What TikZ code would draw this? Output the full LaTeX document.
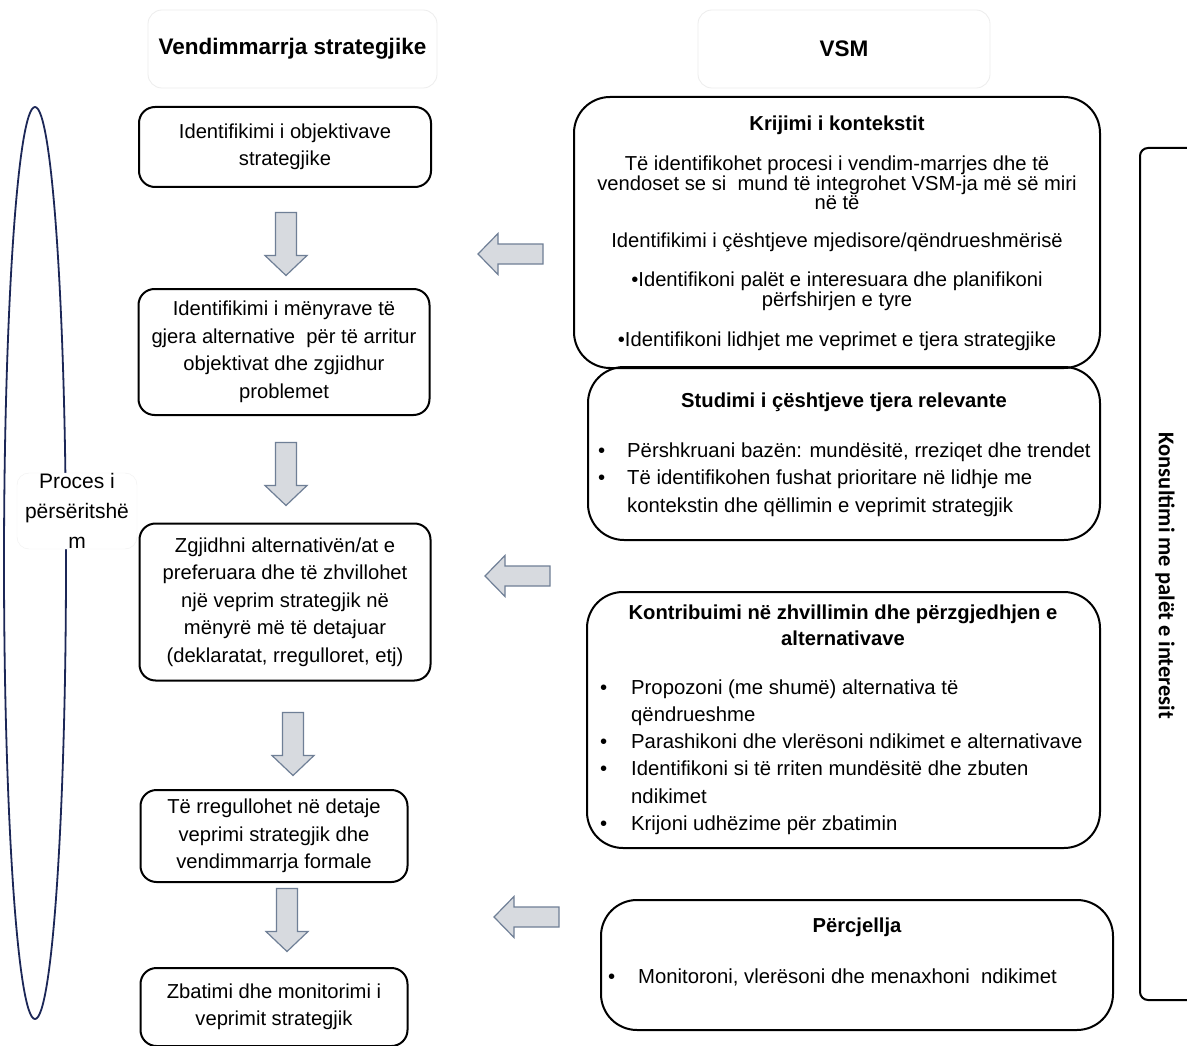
\documentclass[tikz,border=0pt]{standalone}
\usepackage{fontspec}
\setmainfont{Liberation Sans}
\newfontfamily\condfont{Carlito}
\usetikzlibrary{shapes.geometric}
\definecolor{arrowfill}{HTML}{D7DADF}
\definecolor{arrowline}{HTML}{6F7F96}
\definecolor{navyline}{HTML}{1C2757}
\tikzset{
  lbox/.style={draw=black, line width=2pt, rounded corners=16pt, align=center,
    font=\fontsize{20.2}{27.5}\selectfont, inner sep=0pt},
  rbox/.style={draw=black, line width=2pt, rounded corners=36pt, inner sep=0pt},
  hbox/.style={draw=black!7, rounded corners=14pt, line width=0.8pt, inner sep=0pt,
    font=\bfseries\fontsize{22.5}{27}\selectfont},
  txt/.style={font=\fontsize{20.2}{27.5}\selectfont, align=center, inner sep=0pt},
  tighttxt/.style={font=\fontsize{20.2}{17.5}\selectfont, align=center, inner sep=0pt},
  listtxt/.style={font=\fontsize{20.3}{27.3}\selectfont, align=left, inner sep=0pt, anchor=west},
  ttl/.style={font=\bfseries\fontsize{20.2}{26}\selectfont, align=center, inner sep=0pt},
  barrow/.style={fill=arrowfill, draw=arrowline, line width=1.2pt, line join=miter},
  downarr/.pic={\draw[barrow] (-10.5,-31.5) -- (10.5,-31.5) -- (10.5,11.5) -- (21,11.5)
     -- (0,31.5) -- (-21,11.5) -- (-10.5,11.5) -- cycle;},
  leftarr/.pic={\draw[barrow] (32.5,-10) -- (32.5,10) -- (-12.5,10) -- (-12.5,20.5)
     -- (-32.5,0) -- (-12.5,-20.5) -- (-12.5,-10) -- cycle;}
}
\newcommand{\bul}[1]{\makebox[#1][l]{•}}
\begin{document}
\begin{tikzpicture}[x=1pt,y=-1pt]
\useasboundingbox (0,0) rectangle (1187,1046);
\fill[white] (0,0) rectangle (1187,1046);

% headers
\node[hbox, minimum width=289, minimum height=78] (h1) at (292.5,49) {Vendimmarrja strategjike};
\node[hbox, minimum width=292, minimum height=78] (h2) at (844,49) {VSM};

% iterative process ellipse
\node[ellipse, draw=navyline, line width=1.8pt, minimum width=62, minimum height=912, inner sep=0pt] (ell) at (35,563) {};
\node[fill=white, draw=black!6, rounded corners=12pt, minimum width=120, minimum height=76,
  align=center, inner sep=0pt, font=\fontsize{21}{30}\selectfont] (proc) at (77,511)
  {Proces i\\përsëritshë\\m};

% left column
\node[lbox, minimum width=292, minimum height=80] (b1) at (285,147)
  {Identifikimi i objektivave\\strategjike};
\node[lbox, minimum width=291, minimum height=126] (b2) at (284,352)
  {Identifikimi i mënyrave të\\gjera alternative \ për të arritur\\objektivat dhe zgjidhur\\problemet};
\node[lbox, minimum width=291, minimum height=157] (b3) at (285,602)
  {Zgjidhni alternativën/at e\\preferuara dhe të zhvillohet\\një veprim strategjik në\\mënyrë më të detajuar\\(deklaratat, rregulloret, etj)};
\node[lbox, minimum width=267, minimum height=92] (b4) at (274,836)
  {Të rregullohet në detaje\\veprimi strategjik dhe\\vendimmarrja formale};
\node[lbox, minimum width=267, minimum height=78] (b5) at (274,1007)
  {Zbatimi dhe monitorimi i\\veprimit strategjik};

% down arrows
\coordinate (a1) at (286,244);
\coordinate (a2) at (286,474);
\coordinate (a3) at (293,744);
\coordinate (a4) at (287,920);
\pic at (a1) {downarr};
\pic at (a2) {downarr};
\pic at (a3) {downarr};
\pic at (a4) {downarr};

% left arrows
\coordinate (l1) at (510.5,254);
\coordinate (l2) at (517.5,576);
\coordinate (l3) at (526.5,917);
\pic at (l1) {leftarr};
\pic at (l2) {leftarr};
\pic at (l3) {leftarr};

% right column
\node[rbox, minimum width=526, minimum height=271] (k1) at (837,232.5) {};
\node[ttl] (k1t) at (837,125) {Krijimi i kontekstit};
\node[tighttxt] (k1a) at (837,182.5)
  {Të identifikohet procesi i vendim-marrjes dhe të\\vendoset se si \ mund të integrohet VSM-ja më së miri\\në të};
\node[txt] (k1b) at (837,242) {Identifikimi i çështjeve mjedisore/qëndrueshmërisë};
\node[tighttxt] (k1c) at (837,291.5)
  {•Identifikoni palët e interesuara dhe planifikoni\\përfshirjen e tyre};
\node[txt] (k1d) at (837,341) {•Identifikoni lidhjet me veprimet e tjera strategjike};

\node[rbox, minimum width=512, minimum height=173] (k2) at (844,453.5) {};
\node[ttl] (k2t) at (844,402) {Studimi i çështjeve tjera relevante};
\node[listtxt] (k2a) at (598,479.5)
  {\bul{29pt}Përshkruani bazën: mundësitë, rreziqet dhe trendet\\
   \bul{29pt}Të identifikohen fushat prioritare në lidhje me\\
   \hspace*{29pt}kontekstin dhe qëllimin e veprimit strategjik};

\node[rbox, minimum width=513, minimum height=256] (k3) at (843.5,720) {};
\node[ttl] (k3t) at (843,625)
  {Kontribuimi në zhvillimin dhe përzgjedhjen e\\alternativave};
\node[listtxt] (k3a) at (600,757)
  {\bul{31pt}Propozoni (me shumë) alternativa të\\
   \hspace*{31pt}qëndrueshme\\
   \bul{31pt}Parashikoni dhe vlerësoni ndikimet e alternativave\\
   \bul{31pt}Identifikoni si të rriten mundësitë dhe zbuten\\
   \hspace*{31pt}ndikimet\\
   \bul{31pt}Krijoni udhëzime për zbatimin};

\node[rbox, minimum width=512, minimum height=130] (k4) at (857,965) {};
\node[ttl] (k4t) at (857,927) {Përcjellja};
\node[listtxt] (k4a) at (608,977) {\bul{30pt}Monitoroni, vlerësoni dhe menaxhoni \ ndikimet};

% stakeholder consultation
\node[draw=black, line width=2pt, rounded corners=8pt, minimum width=60, minimum height=852, inner sep=0pt] (kv) at (1170,574) {};
\node[rotate=-90, inner sep=0pt, font=\condfont\bfseries\fontsize{22.5}{26}\selectfont] (kvt) at (1165,576)
  {Konsultimi me palët e interesit};
\end{tikzpicture}
\end{document}
